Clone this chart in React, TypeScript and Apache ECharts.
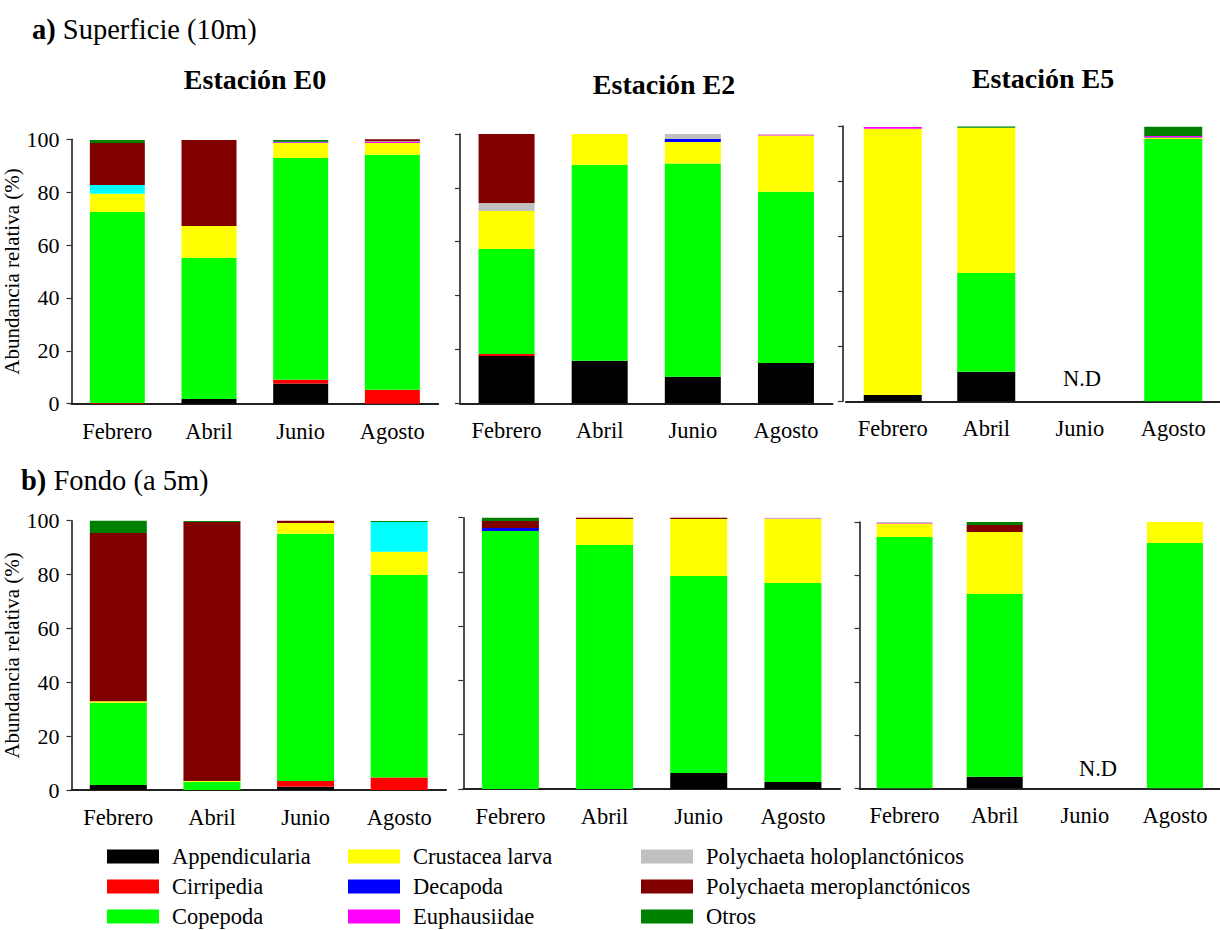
import React, { useEffect, useRef } from "react";
import * as echarts from "echarts";

// Months sampled at every station
const MESES = ["Febrero", "Abril", "Junio", "Agosto"];

// Taxonomic groups, in stacking order (bottom to top)
const GRUPOS = [
  "Appendicularia",
  "Cirripedia",
  "Copepoda",
  "Crustacea larva",
  "Decapoda",
  "Euphausiidae",
  "Polychaeta holoplanctónicos",
  "Sin clasificar",
  "Polychaeta meroplanctónicos",
  "Otros",
];

const Y_TICKS = [0, 20, 40, 60, 80, 100];

// Relative abundance (%) per group, one row per group, columns = MESES.
// null = no data (N.D)
const E0_SUPERFICIE: (number | null)[][] = [
  [0, 1.8, 7.6, 0],
  [0.3, 0, 1.5, 5.3],
  [72.2, 53.4, 83.8, 88.9],
  [6.9, 12.0, 5.7, 4.4],
  [0, 0, 0.2, 0],
  [0, 0, 0.3, 0.4],
  [0, 0, 0, 0.3],
  [3.3, 0, 0, 0],
  [15.9, 32.5, 0, 0.8],
  [1.1, 0, 0.6, 0],
];

const E2_SUPERFICIE: (number | null)[][] = [
  [17.6, 15.8, 9.9, 15.0],
  [0.7, 0, 0, 0],
  [39.0, 72.8, 79.1, 63.6],
  [14.1, 11.4, 8.0, 20.8],
  [0, 0, 1.1, 0],
  [0, 0, 0, 0.3],
  [3.0, 0, 1.9, 0.3],
  [0, 0, 0, 0],
  [25.6, 0, 0, 0],
  [0, 0, 0, 0],
];

const E5_SUPERFICIE: (number | null)[][] = [
  [2.3, 10.7, null, 0],
  [0, 0, null, 0],
  [0, 35.9, null, 95.3],
  [96.7, 52.8, null, 0.5],
  [0, 0, null, 0.2],
  [0.6, 0, null, 0.4],
  [0, 0, null, 0],
  [0, 0, null, 0],
  [0, 0, null, 0],
  [0, 0.4, null, 3.3],
];

const E0_FONDO: (number | null)[][] = [
  [1.9, 0, 1.2, 0],
  [0, 0, 2.1, 4.6],
  [30.5, 3.1, 91.9, 75.2],
  [0.6, 0.2, 3.9, 8.7],
  [0, 0, 0, 0],
  [0, 0, 0, 0],
  [0, 0, 0, 0],
  [0, 0, 0, 11.0],
  [62.4, 96.2, 0.9, 0],
  [4.6, 0.4, 0, 0.4],
];

const E2_FONDO: (number | null)[][] = [
  [0, 0, 5.9, 2.6],
  [0, 0, 0, 0],
  [95.1, 89.9, 72.6, 73.3],
  [0, 9.6, 21.0, 23.6],
  [1.1, 0, 0, 0],
  [0, 0, 0, 0.2],
  [0, 0, 0, 0.3],
  [0, 0, 0, 0],
  [2.6, 0.5, 0.5, 0],
  [1.2, 0, 0, 0],
];

const E5_FONDO: (number | null)[][] = [
  [0, 4.3, null, 0],
  [0, 0, null, 0],
  [94.4, 68.7, null, 92.1],
  [5.0, 23.2, null, 7.9],
  [0, 0, null, 0],
  [0.25, 0, null, 0],
  [0.35, 0, null, 0],
  [0, 0, null, 0],
  [0, 2.7, null, 0],
  [0, 1.1, null, 0],
];

const COLORES = [
  "#000000",
  "#ff0000",
  "#00ff00",
  "#ffff00",
  "#0000ff",
  "#ff00ff",
  "#c0c0c0",
  "#00ffff",
  "#800000",
  "#008000",
];

const FONT = "'Liberation Serif', 'Times New Roman', serif";

type Panel = {
  datos: (number | null)[][];
  left: number;
  top: number;
  width: number;
  height: number;
  barWidth: number;
  etiquetas: boolean;
  offsetY: number;
};

const PANELES: Panel[] = [
  { datos: E0_SUPERFICIE, left: 71.5, top: 139.3, width: 366.7, height: 264.4, barWidth: 55, etiquetas: true, offsetY: 0 },
  { datos: E2_SUPERFICIE, left: 460, top: 134, width: 372.5, height: 269.3, barWidth: 56, etiquetas: false, offsetY: 0 },
  { datos: E5_SUPERFICIE, left: 846, top: 126, width: 381.6, height: 275.3, barWidth: 58, etiquetas: false, offsetY: 3 },
  { datos: E0_FONDO, left: 71.5, top: 520.7, width: 374.5, height: 269.3, barWidth: 57, etiquetas: true, offsetY: 0 },
  { datos: E2_FONDO, left: 463.3, top: 517.7, width: 376.7, height: 271.3, barWidth: 57, etiquetas: false, offsetY: 0 },
  { datos: E5_FONDO, left: 859.5, top: 522, width: 370, height: 266.3, barWidth: 56, etiquetas: false, offsetY: 0 },
];

export default function App() {
  const ref = useRef<HTMLDivElement>(null);

  useEffect(() => {
    if (!ref.current) return;
    const chart = echarts.init(ref.current, undefined, { renderer: "svg" });

    const grid = PANELES.map((p) => ({
      left: p.left,
      top: p.top,
      width: p.width,
      height: p.height,
      containLabel: false,
    }));

    const xAxis = PANELES.map((p, i) => ({
      type: "category",
      gridIndex: i,
      data: MESES,
      axisLine: { lineStyle: { color: "#222", width: 2 } },
      axisTick: { alignWithLabel: true, length: 5, lineStyle: { color: "#444", width: 1.5 } },
      axisLabel: { interval: 0, margin: 16, fontFamily: FONT, fontSize: 22.5, color: "#000" },
    }));

    const yAxis = PANELES.map((p, i) => ({
      type: "value",
      gridIndex: i,
      min: Y_TICKS[0],
      max: Y_TICKS[Y_TICKS.length - 1],
      interval: Y_TICKS[1] - Y_TICKS[0],
      offset: p.offsetY,
      splitLine: { show: false },
      axisLine: { show: true, lineStyle: { color: "#111", width: 1.5 } },
      axisTick: { show: true, length: 5, lineStyle: { color: "#333", width: 1.2 } },
      axisLabel: {
        show: p.etiquetas,
        margin: 12,
        fontFamily: FONT,
        fontSize: 22,
        color: "#000",
      },
      name: p.etiquetas ? "Abundancia relativa (%)" : "",
      nameLocation: "middle",
      nameGap: 44,
      nameRotate: 90,
      nameTextStyle: { fontFamily: FONT, fontSize: 21, color: "#000" },
    }));

    const series: any[] = [];
    PANELES.forEach((p, i) => {
      GRUPOS.forEach((g, k) => {
        series.push({
          type: "bar",
          name: g,
          xAxisIndex: i,
          yAxisIndex: i,
          stack: "panel" + i,
          barWidth: p.barWidth,
          itemStyle: { color: COLORES[k] },
          data: p.datos[k],
        });
      });
    });

    const legendBase = {
      orient: "vertical",
      icon: "rect",
      itemWidth: 52,
      itemHeight: 14,
      itemGap: 7,
      height: 120,
      selectedMode: false,
      padding: 0,
      textStyle: {
        fontFamily: FONT,
        fontSize: 22.5,
        lineHeight: 21,
        color: "#000",
        padding: [0, 0, 0, 8],
      },
    };

    const texto = (t: string, x: number, y: number, size: number, bold: boolean, align = "center") => ({
      type: "text",
      x,
      y,
      style: {
        text: t,
        fontFamily: FONT,
        fontSize: size,
        fontWeight: bold ? "bold" : "normal",
        fill: "#000",
        align,
        verticalAlign: "middle",
      },
    });

    const seccion = (letra: string, resto: string, x: number, y: number) => ({
      type: "text",
      x,
      y,
      style: {
        text: "{b|" + letra + "}{n|" + resto + "}",
        align: "left",
        verticalAlign: "middle",
        rich: {
          b: { fontFamily: FONT, fontSize: 28.5, fontWeight: "bold", fill: "#000" },
          n: { fontFamily: FONT, fontSize: 28.5, fontWeight: "normal", fill: "#000" },
        },
      },
    });

    chart.setOption({
      animation: false,
      backgroundColor: "#fff",
      grid,
      xAxis,
      yAxis,
      series,
      legend: [
        { ...legendBase, left: 107, top: 845, data: GRUPOS.slice(0, 3) },
        { ...legendBase, left: 348, top: 845, data: GRUPOS.slice(3, 6) },
        { ...legendBase, left: 641, top: 845, data: [GRUPOS[6], GRUPOS[8], GRUPOS[9]] },
      ],
      graphic: [
        seccion("a)", " Superficie (10m)", 32, 29),
        seccion("b)", " Fondo (a 5m)", 21, 480),
        texto("Estación E0", 255, 79, 28, true),
        texto("Estación E2", 664, 84, 28, true),
        texto("Estación E5", 1043, 78, 28, true),
        texto("N.D", 1082, 378, 22.5, false),
        texto("N.D", 1098, 768, 22.5, false),
      ],
    });

    return () => chart.dispose();
  }, []);

  return (
    <div
      ref={ref}
      style={{ position: "absolute", left: 0, top: 0, width: 1220, height: 930, background: "#fff" }}
    />
  );
}
